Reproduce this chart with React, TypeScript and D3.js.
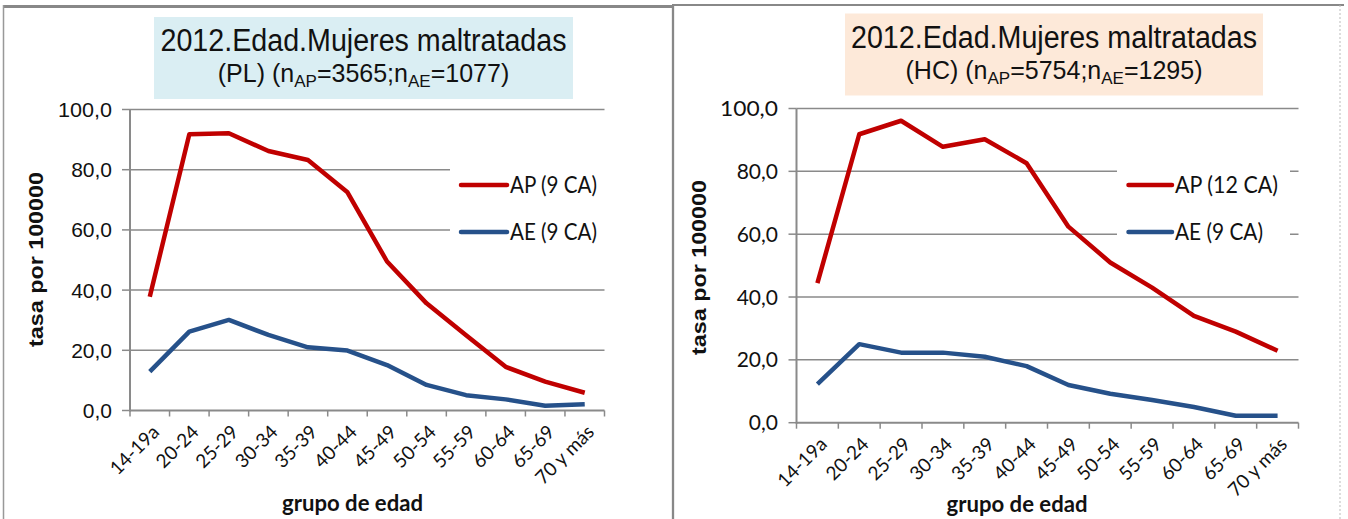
import React from 'react';
import * as d3 from 'd3';

const categories = ['14-19a', '20-24', '25-29', '30-34', '35-39', '40-44', '45-49', '50-54', '55-59', '60-64', '65-69', '70 y más'];
const apPL = [37.8, 91.8, 92.1, 86.2, 83.2, 72.5, 49.5, 35.6, 25.0, 14.5, 9.6, 5.9];
const aePL = [12.9, 26.2, 30.1, 25.1, 21.0, 19.9, 15.1, 8.5, 5.1, 3.7, 1.6, 2.1];
const apHC = [44.4, 91.8, 96.1, 87.8, 90.2, 82.6, 62.4, 51.0, 43.0, 34.0, 29.0, 22.9];
const aeHC = [12.3, 25.0, 22.3, 22.3, 21.0, 18.0, 12.0, 9.2, 7.2, 5.0, 2.2, 2.2];
const yTicks = [0, 20, 40, 60, 80, 100];
const yTickLabels = ['0,0', '20,0', '40,0', '60,0', '80,0', '100,0'];
const legendPL = ['AP (9 CA)', 'AE (9 CA)'];
const legendHC = ['AP (12 CA)', 'AE (9 CA)'];

const RED = '#c00000';
const BLUE = '#26518a';
const GRID = '#8a8a8a';
const ARIAL = '"Liberation Sans", Arial, sans-serif';
const CALIBRI = 'Lato, "Open Sans", sans-serif';

type ChartProps = {
  x0: number; x1: number; yTop: number; yBot: number;
  ap: number[]; ae: number[]; legend: string[];
  box: { x: number; y: number; w: number; h: number; fill: string };
  tag: string; nAP: string; nAE: string;
  l1y: number; l2y: number;
  tickFont: string; tickEnd: number; tickLen100: number;
  yTitleX: number; yTitleY: number;
  xTitleX: number; xTitleY: number;
  leg: { lx0: number; lx1: number; tx: number; lens: number[]; bx0: number; bx1: number; rows: number[] };
};

function Chart(p: ChartProps) {
  const x = d3.scaleBand<string>().domain(categories).range([p.x0, p.x1]);
  const y = d3.scaleLinear().domain([0, 100]).range([p.yBot, p.yTop]);
  const line = d3.line<number>()
    .x((_, i) => (x(categories[i]) as number) + x.bandwidth() / 2)
    .y((d) => y(d));
  const boundaries = d3.range(categories.length + 1).map((i) => p.x0 + i * x.bandwidth());
  const cx = p.box.x + p.box.w / 2;
  return (
    <g>
      {/* title box */}
      <rect x={p.box.x} y={p.box.y} width={p.box.w} height={p.box.h} fill={p.box.fill} />
      <text x={cx} y={p.l1y} textAnchor="middle" fontFamily={ARIAL} fontSize={31} fill="#111"
        textLength={406} lengthAdjust="spacingAndGlyphs">2012.Edad.Mujeres maltratadas</text>
      <text x={cx} y={p.l2y} textAnchor="middle" fontFamily={ARIAL} fontSize={25} fill="#111">
        <tspan>{p.tag} (n</tspan>
        <tspan fontSize={17} dy={5}>AP</tspan>
        <tspan dy={-5}>={p.nAP};n</tspan>
        <tspan fontSize={17} dy={5}>AE</tspan>
        <tspan dy={-5}>={p.nAE})</tspan>
      </text>
      {/* gridlines */}
      {yTicks.filter((t) => t > 0).map((t) => (
        <line key={t} x1={p.x0} x2={p.x1} y1={y(t)} y2={y(t)} stroke={GRID} strokeWidth={1.5} />
      ))}
      {/* y axis */}
      <line x1={p.x0} x2={p.x0} y1={p.yTop} y2={p.yBot + 1} stroke={GRID} strokeWidth={2} />
      {yTicks.map((t, i) => (
        <g key={t}>
          <line x1={p.x0 - 8} x2={p.x0} y1={y(t)} y2={y(t)} stroke={GRID} strokeWidth={1.5} />
          <text x={p.tickEnd} y={y(t)} dy="0.36em" textAnchor="end" fontFamily={p.tickFont} fontSize={21} fill="#111"
            textLength={t === 100 ? p.tickLen100 : undefined} lengthAdjust="spacingAndGlyphs">{yTickLabels[i]}</text>
        </g>
      ))}
      {/* x axis */}
      <line x1={p.x0} x2={p.x1} y1={p.yBot} y2={p.yBot} stroke={GRID} strokeWidth={2} />
      {boundaries.map((b, i) => (
        <line key={i} x1={b} x2={b} y1={p.yBot} y2={p.yBot + 6} stroke={GRID} strokeWidth={1.5} />
      ))}
      {categories.map((c) => {
        const px = (x(c) as number) + x.bandwidth() / 2 + 6;
        const py = p.yBot + 18;
        return (
          <text key={c} transform={`translate(${px},${py}) rotate(-45)`} textAnchor="end" dy="0.35em"
            fontFamily={CALIBRI} fontSize={19} fill="#111">{c}</text>
        );
      })}
      {/* axis titles */}
      <text transform={`translate(${p.yTitleX},${p.yTitleY}) rotate(-90)`} textAnchor="middle"
        fontFamily={ARIAL} fontWeight="bold" fontSize={21} fill="#111"
        textLength={175} lengthAdjust="spacingAndGlyphs">tasa por 100000</text>
      <text x={p.xTitleX} y={p.xTitleY} textAnchor="middle" fontFamily={CALIBRI} fontWeight="bold" fontSize={22}
        fill="#111" textLength={141} lengthAdjust="spacingAndGlyphs">grupo de edad</text>
      {/* legend box */}
      <rect x={p.leg.bx0} y={y(90)} width={p.leg.bx1 - p.leg.bx0} height={y(45) - y(90)} fill="#fff" />
      {/* series */}
      <path d={line(p.ap) || ''} fill="none" stroke={RED} strokeWidth={4.5} strokeLinejoin="round" />
      <path d={line(p.ae) || ''} fill="none" stroke={BLUE} strokeWidth={4.5} strokeLinejoin="round" />
      {/* legend */}
      {[RED, BLUE].map((col, i) => (
        <g key={col}>
          <line x1={p.leg.lx0} x2={p.leg.lx1} y1={p.leg.rows[i]} y2={p.leg.rows[i]} stroke={col} strokeWidth={4.5} strokeLinecap="round" />
          <text x={p.leg.tx} y={p.leg.rows[i]} dy="0.36em" fontFamily={CALIBRI} fontSize={23} fill="#111"
            textLength={p.leg.lens[i]} lengthAdjust="spacingAndGlyphs">{p.legend[i]}</text>
        </g>
      ))}
    </g>
  );
}

export default function App() {
  return (
    <svg width={1348} height={519} style={{ position: 'absolute', left: 0, top: 0, display: 'block', background: '#fff' }}>
      {/* panel frames */}
      <line x1={3} x2={674} y1={6.5} y2={6.5} stroke="#888" strokeWidth={3} />
      <line x1={3.5} x2={3.5} y1={5} y2={519} stroke="#999" strokeWidth={1.5} />
      <line x1={673} x2={673} y1={5} y2={519} stroke="#888" strokeWidth={2.3} />
      <line x1={672} x2={1344} y1={5} y2={5} stroke="#888" strokeWidth={2} />
      <line x1={1340} x2={1340} y1={5} y2={519} stroke="#bbb" strokeWidth={1} strokeDasharray="2,2" />
      <Chart
        x0={130} x1={604.5} yTop={109.5} yBot={410.5}
        ap={apPL} ae={aePL} legend={legendPL}
        box={{ x: 154, y: 17, w: 419, h: 82, fill: '#daeef3' }}
        tag="(PL)" nAP="3565" nAE="1077" l1y={51} l2y={82}
        tickFont={ARIAL} tickEnd={112} tickLen100={54}
        yTitleX={43} yTitleY={259.5}
        xTitleX={352.5} xTitleY={511}
        leg={{ lx0: 461, lx1: 507, tx: 510, lens: [87, 87], bx0: 450, bx1: 606, rows: [185, 232] }}
      />
      <Chart
        x0={796.5} x1={1298.5} yTop={108.5} yBot={422.7}
        ap={apHC} ae={aeHC} legend={legendHC}
        box={{ x: 845, y: 13.5, w: 418, h: 82, fill: '#fde9d9' }}
        tag="(HC)" nAP="5754" nAE="1295" l1y={48} l2y={79}
        tickFont={CALIBRI} tickEnd={778} tickLen100={58}
        yTitleX={706} yTitleY={267.5}
        xTitleX={1017} xTitleY={511.5}
        leg={{ lx0: 1128.5, lx1: 1172, tx: 1175, lens: [103, 88], bx0: 1117, bx1: 1290, rows: [185, 232] }}
      />
    </svg>
  );
}
